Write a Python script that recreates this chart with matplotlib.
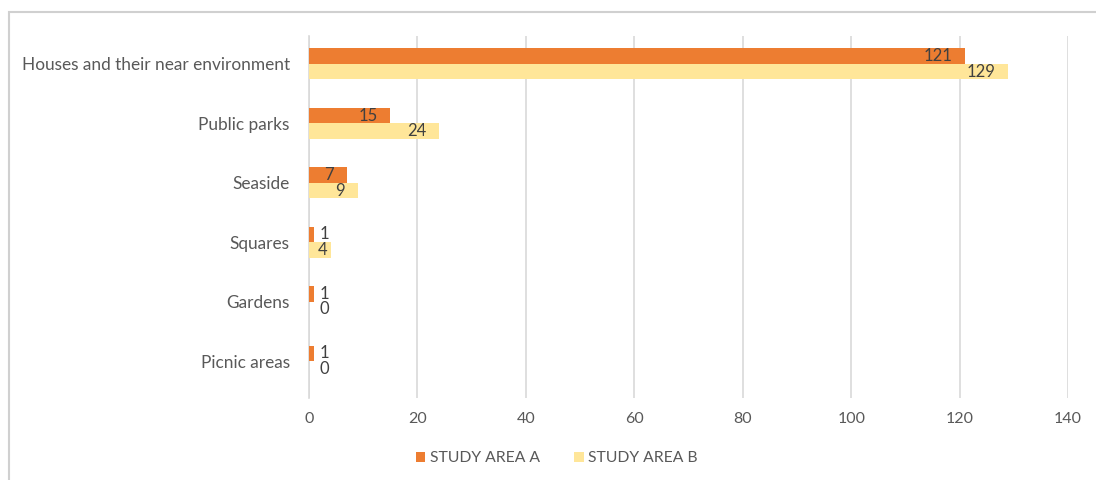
import matplotlib.pyplot as plt
import matplotlib.patches as mpatches
import numpy as np

# Daten
categories = ["Houses and their near environment", "Public parks", "Seaside",
              "Squares", "Gardens", "Picnic areas"]
area_a = [121, 15, 7, 1, 1, 1]
area_b = [129, 24, 9, 4, 0, 0]
series_names = ["STUDY AREA A", "STUDY AREA B"]
x_ticks = [0, 20, 40, 60, 80, 100, 120, 140]

plt.rcParams['font.family'] = ['Lato', 'DejaVu Sans']

col_a = '#ED7D31'
col_b = '#FFE699'
grid_col = '#D9D9D9'
txt_col = '#595959'

fig = plt.figure(figsize=(10.96, 4.8), dpi=100)
ax = fig.add_axes([0.282, 0.171, 0.6925, 0.754])

# Rahmen um das Diagramm
fig.patches.append(mpatches.Rectangle((9 / 1096, -0.1), 1.2, 1 - 12 / 480 + 0.1,
                                      transform=fig.transFigure, fill=False,
                                      edgecolor='#D0D0D0', linewidth=1.5))

y = np.arange(len(categories))[::-1]
h = 0.26
bars_a = ax.barh(y + h / 2, area_a, height=h, color=col_a, label=series_names[0], zorder=3)
bars_b = ax.barh(y - h / 2, area_b, height=h, color=col_b, label=series_names[1], zorder=3)

# Beschriftungen der Werte
for bars, vals in ((bars_a, area_a), (bars_b, area_b)):
    for b, v in zip(bars, vals):
        yc = b.get_y() + b.get_height() / 2
        if v >= 4:
            ax.text(max(v - 2.4, 3.3), yc, str(v), ha='right', va='center', fontsize=12,
                    color='#404040', zorder=4)
        else:
            # kleine Werte rechts neben dem Balken
            ax.text(max(v, 1) + 0.9, yc, str(v), ha='left', va='center', fontsize=12,
                    color='#404040', zorder=4)

ax.set_xlim(0, 140)
ax.set_ylim(-0.62, 5.47)
ax.set_xticks(x_ticks)
ax.set_yticks(y)
ax.set_yticklabels(categories, fontsize=12.4)
ax.tick_params(axis='both', length=0, labelcolor=txt_col)
ax.tick_params(axis='x', pad=10, labelsize=11.5)
ax.tick_params(axis='y', pad=14)
ax.xaxis.grid(True, color=grid_col, linewidth=1.2, zorder=0)
for s in ['top', 'right', 'bottom']:
    ax.spines[s].set_visible(False)
ax.spines['left'].set_color(grid_col)
ax.spines['left'].set_linewidth(1.2)

leg = fig.legend(loc='center', bbox_to_anchor=(0.508, 0.045), ncol=2, frameon=False,
                 fontsize=11.3, handlelength=0.6, handleheight=0.6, handletextpad=0.3,
                 columnspacing=2.2)
for t in leg.get_texts():
    t.set_color(txt_col)

plt.savefig('out.png', dpi=100)
